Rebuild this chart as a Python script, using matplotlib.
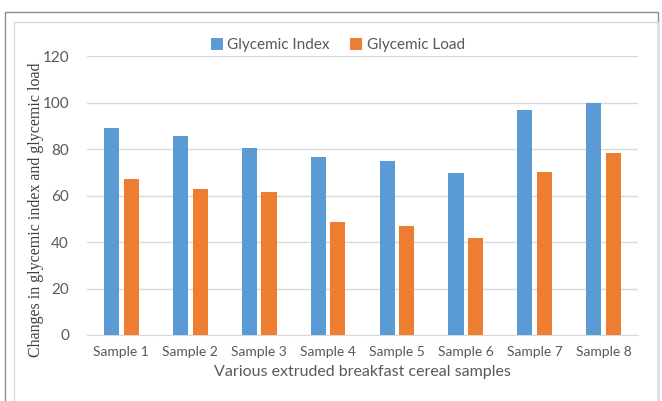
import matplotlib.pyplot as plt
import numpy as np
from matplotlib.patches import Rectangle

# Values
samples = ["Sample 1", "Sample 2", "Sample 3", "Sample 4",
           "Sample 5", "Sample 6", "Sample 7", "Sample 8"]
glycemic_index = [89.1, 85.4, 80.3, 76.4, 75.0, 69.8, 96.7, 100.0]
glycemic_load = [67.1, 63.0, 61.5, 48.8, 46.8, 41.6, 70.3, 78.1]

W, H = 662, 401
fig = plt.figure(figsize=(W / 100, H / 100), dpi=100)

# frame lines around the chart (like the pasted Excel object)
fig.patches.append(Rectangle((5 / W, -0.05), 653 / W, 1 - 12 / H + 0.05, transform=fig.transFigure,
                             fill=False, edgecolor="#8c8c8c", linewidth=1.0))
fig.patches.append(Rectangle((14 / W, -0.05), 644 / W, 1 - 22 / H + 0.05, transform=fig.transFigure,
                             fill=False, edgecolor="#d9d9d9", linewidth=1.0))

ax = fig.add_axes([87 / W, 1 - 335 / H, (638 - 87) / W, (335 - 56) / H])

x = np.arange(len(samples))
width = 0.22
ax.bar(x - 0.143, glycemic_index, width, color="#5B9BD5", label="Glycemic Index", zorder=3)
ax.bar(x + 0.143, glycemic_load, width, color="#ED7D31", label="Glycemic Load", zorder=3)

ax.set_xlim(-0.5, len(samples) - 0.5)
ax.set_ylim(0, 120)
ax.set_yticks(range(0, 121, 20))
ax.set_xticks(x)
ax.set_xticklabels(samples, fontfamily="Lato", fontsize=10, color="#595959")
for lab in ax.get_yticklabels():
    lab.set_fontfamily("Lato")
    lab.set_fontsize(11)
    lab.set_color("#595959")

ax.grid(axis="y", color="#d9d9d9", linewidth=1.0, zorder=0)
for side in ["top", "right", "left"]:
    ax.spines[side].set_visible(False)
ax.spines["bottom"].set_color("#d9d9d9")
ax.tick_params(axis="x", length=0, pad=8)
ax.tick_params(axis="y", length=0, pad=13)

ax.set_xlabel("Various extruded breakfast cereal samples", fontfamily="Lato",
              fontsize=11.5, color="#595959", labelpad=5)
ax.set_ylabel("Changes in glycemic index and glycemic load", fontfamily="Liberation Serif",
              fontsize=11.5, color="#404040")
ax.yaxis.set_label_coords(-0.078, 0.45)

ax.legend(loc="center", bbox_to_anchor=(0.455, 1.039), ncol=2, frameon=False,
          prop={"family": "Lato", "size": 11}, labelcolor="#595959",
          handlelength=0.8, handleheight=0.8, handletextpad=0.3, columnspacing=1.3)

fig.savefig("out.png", dpi=100)
